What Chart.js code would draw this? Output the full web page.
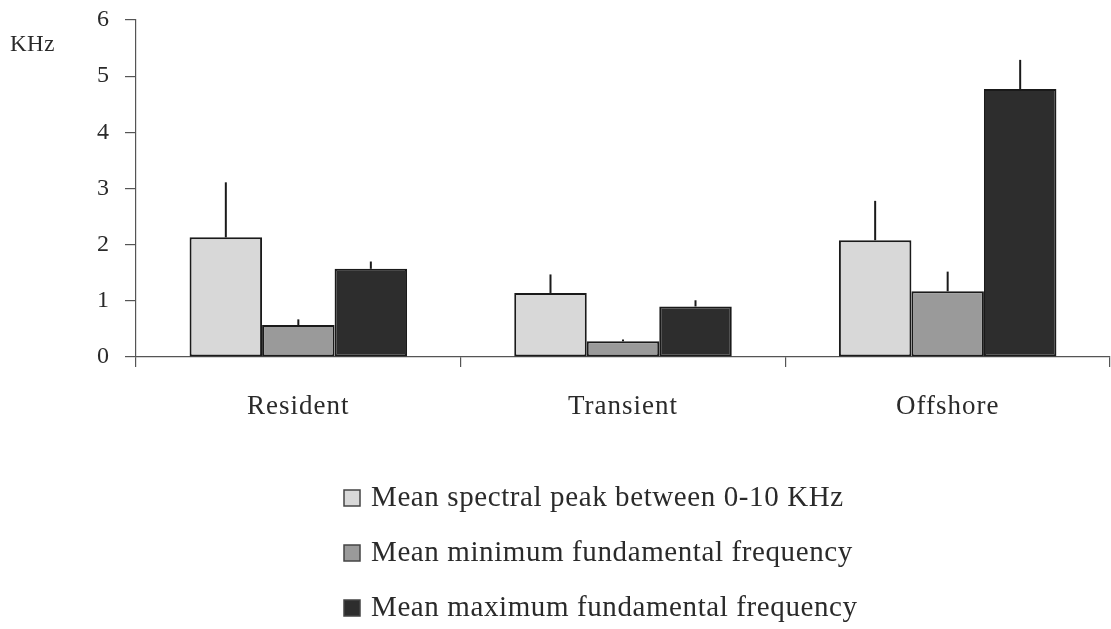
<!DOCTYPE html>
<html>
<head>
<meta charset="utf-8">
<title>Frequency by population</title>
<script src="https://cdn.jsdelivr.net/npm/chart.js@4.4.0/dist/chart.umd.min.js"></script>
<style>
  html, body { margin: 0; padding: 0; background: #fff; }
  #wrap { position: relative; width: 1111px; height: 629px; }
</style>
</head>
<body>
<div id="wrap"><canvas id="freqChart"></canvas></div>
<script>
// data (KHz)
const categories = ['Resident', 'Transient', 'Offshore'];
const seriesNames = [
  'Mean spectral peak between 0-10 KHz',
  'Mean minimum fundamental frequency',
  'Mean maximum fundamental frequency'
];
const spectralPeak = [2.13, 1.14, 2.08];
const spectralPeakErr = [0.98, 0.33, 0.70];
const minFundamental = [0.57, 0.28, 1.17];
const minFundamentalErr = [0.10, 0.03, 0.35];
const maxFundamental = [1.57, 0.90, 4.77];
const maxFundamentalErr = [0.13, 0.11, 0.52];
const yMin = 0;
const yMax = 6;
const yStep = 1;
const unitLabel = 'KHz';

const serif = '"Liberation Serif", "Times New Roman", serif';
const textColor = '#2a2a2a';
const axisColor = '#555';

Chart.defaults.font.family = serif;
Chart.defaults.color = textColor;

// the scanned original has slightly loose letter spacing
const looseText = {
  id: 'looseText',
  beforeDraw(chart) { chart.ctx.letterSpacing = '1px'; }
};

// upward-only error lines, no caps
const errorBars = {
  id: 'errorBars',
  afterDatasetsDraw(chart) {
    const { ctx } = chart;
    const y = chart.scales.y;
    ctx.save();
    ctx.strokeStyle = '#1a1a1a';
    ctx.lineWidth = 2;
    chart.data.datasets.forEach((ds, i) => {
      const meta = chart.getDatasetMeta(i);
      meta.data.forEach((bar, j) => {
        const top = y.getPixelForValue(ds.data[j] + ds.errors[j]);
        ctx.beginPath();
        ctx.moveTo(bar.x, bar.y);
        ctx.lineTo(bar.x, top);
        ctx.stroke();
      });
    });
    ctx.restore();
  }
};

// one legend entry per row, plus the unit label at the top left
const listLegend = {
  id: 'listLegend',
  afterDraw(chart, args, opts) {
    const { ctx } = chart;
    ctx.save();
    ctx.textBaseline = 'middle';
    ctx.textAlign = 'left';

    ctx.fillStyle = textColor;
    ctx.letterSpacing = '0.5px';
    ctx.font = '23px ' + serif;
    ctx.fillText(unitLabel, opts.unitX, opts.unitY);

    ctx.letterSpacing = '0.6px';
    ctx.font = '29px ' + serif;
    chart.data.datasets.forEach((ds, i) => {
      const cy = opts.top + i * opts.rowGap;
      const bx = opts.left;
      const s = opts.box;
      ctx.fillStyle = ds.backgroundColor;
      ctx.fillRect(bx, cy - s / 2, s, s);
      ctx.strokeStyle = '#444';
      ctx.lineWidth = 1.5;
      ctx.strokeRect(bx, cy - s / 2, s, s);
      ctx.fillStyle = textColor;
      ctx.fillText(ds.label, bx + s + 11, cy);
    });
    ctx.restore();
  }
};

const barStyle = {
  borderColor: '#1a1a1a',
  borderWidth: 2,
  borderSkipped: false,
  categoryPercentage: 0.67,
  barPercentage: 1.0
};

new Chart(document.getElementById('freqChart'), {
  type: 'bar',
  data: {
    labels: categories,
    datasets: [
      { label: seriesNames[0], data: spectralPeak, errors: spectralPeakErr, backgroundColor: '#d8d8d8', ...barStyle },
      { label: seriesNames[1], data: minFundamental, errors: minFundamentalErr, backgroundColor: '#9a9a9a', ...barStyle },
      { label: seriesNames[2], data: maxFundamental, errors: maxFundamentalErr, backgroundColor: '#2d2d2d', ...barStyle }
    ]
  },
  options: {
    responsive: true,
    maintainAspectRatio: false,
    animation: false,
    layout: { padding: { top: 20, right: 1, bottom: 192, left: 0 } },
    plugins: {
      legend: { display: false },
      tooltip: { enabled: false },
      listLegend: { left: 344, top: 498, rowGap: 55, box: 16, unitX: 10, unitY: 45 }
    },
    scales: {
      x: {
        offset: true,
        grid: { offset: true, drawOnChartArea: false, tickLength: 10, color: axisColor, lineWidth: 1.2 },
        border: { color: axisColor, width: 1.2 },
        ticks: { padding: 24, color: textColor, font: { size: 27 } },
        afterFit(scale) { scale.height = 80; }
      },
      y: {
        min: yMin,
        max: yMax,
        grid: { drawOnChartArea: false, tickLength: 11, color: axisColor, lineWidth: 1.2 },
        border: { color: axisColor, width: 1.2 },
        ticks: { stepSize: yStep, padding: 15, color: textColor, font: { size: 24 } },
        afterFit(scale) {
          scale.width = 136;
          // keep tick padding from pushing the plot top down
          scale.paddingTop = 12;
          scale.paddingBottom = 12;
        }
      }
    }
  },
  plugins: [looseText, errorBars, listLegend]
});
</script>
</body>
</html>
